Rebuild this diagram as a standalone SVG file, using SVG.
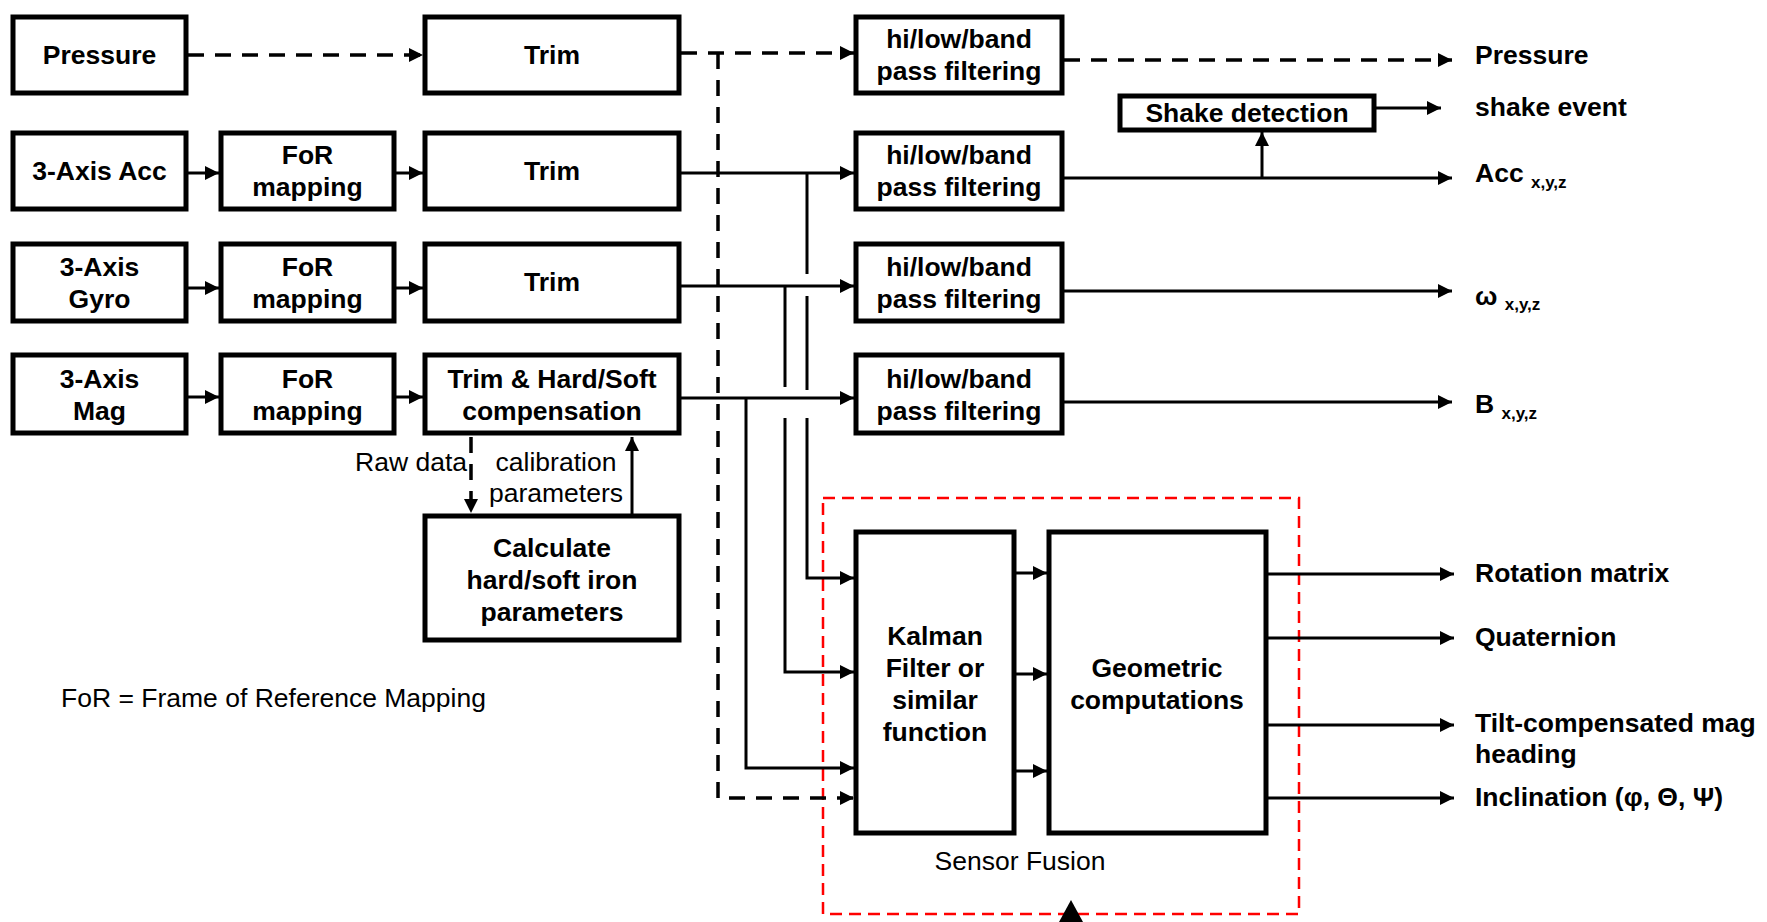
<svg xmlns="http://www.w3.org/2000/svg" width="1767" height="922" viewBox="0 0 1767 922">
<style>
text{font-family:"Liberation Sans",Arial,sans-serif;font-size:26.5px;fill:#000}
.b{font-weight:bold}
.c{text-anchor:middle}
.sub{font-size:17px;font-weight:bold}
.box{fill:#fff;stroke:#000;stroke-width:5}
.ln{fill:none;stroke:#000;stroke-width:3}
.da{fill:none;stroke:#000;stroke-width:3.5;stroke-dasharray:16 11}
.red{fill:none;stroke:#ff0000;stroke-width:2.5;stroke-dasharray:12 7}
</style>
<defs>
<marker id="ah" markerUnits="userSpaceOnUse" markerWidth="14" markerHeight="14" refX="14" refY="7" orient="auto"><path d="M0,0 L14,7 L0,14 z" fill="#000"/></marker>
</defs>
<rect width="1767" height="922" fill="#fff"/>

<g id="sensor-fusion">
<rect class="red" x="823" y="498" width="476" height="416"/>
<text class="c" x="1020" y="870">Sensor Fusion</text>
</g>

<g id="connectors">
<path class="da" d="M188,55 H423" marker-end="url(#ah)"/>
<path class="da" d="M681,53 H854" marker-end="url(#ah)"/>
<path class="da" d="M718,53 V798 H854" marker-end="url(#ah)"/>
<path class="da" d="M1064,60 H1452" marker-end="url(#ah)"/>
<path class="ln" d="M188,173 H219" marker-end="url(#ah)"/>
<path class="ln" d="M396,173 H423" marker-end="url(#ah)"/>
<path class="ln" d="M681,173 H854" marker-end="url(#ah)"/>
<path class="ln" d="M1064,178 H1452" marker-end="url(#ah)"/>
<path class="ln" d="M1262,178 V132" marker-end="url(#ah)"/>
<path class="ln" d="M1376,108 H1441" marker-end="url(#ah)"/>
<path class="ln" d="M188,288 H219" marker-end="url(#ah)"/>
<path class="ln" d="M396,288 H423" marker-end="url(#ah)"/>
<path class="ln" d="M681,286 H854" marker-end="url(#ah)"/>
<path class="ln" d="M1064,291 H1452" marker-end="url(#ah)"/>
<path class="ln" d="M188,397 H219" marker-end="url(#ah)"/>
<path class="ln" d="M396,397 H423" marker-end="url(#ah)"/>
<path class="ln" d="M681,398 H854" marker-end="url(#ah)"/>
<path class="ln" d="M1064,402 H1452" marker-end="url(#ah)"/>
<path class="ln" d="M807,173 V274 M807,296 V390"/>
<path class="ln" d="M807,418 V578 H854" marker-end="url(#ah)"/>
<path class="ln" d="M785,286 V387"/>
<path class="ln" d="M785,418 V672 H854" marker-end="url(#ah)"/>
<path class="ln" d="M746,398 V768 H854" marker-end="url(#ah)"/>
<path class="ln" d="M1016,573 H1047" marker-end="url(#ah)"/>
<path class="ln" d="M1016,674 H1047" marker-end="url(#ah)"/>
<path class="ln" d="M1016,771 H1047" marker-end="url(#ah)"/>
<path class="ln" d="M1268,574 H1454" marker-end="url(#ah)"/>
<path class="ln" d="M1268,638 H1454" marker-end="url(#ah)"/>
<path class="ln" d="M1268,725 H1454" marker-end="url(#ah)"/>
<path class="ln" d="M1268,798 H1454" marker-end="url(#ah)"/>
<path class="da" d="M471,437 V513" marker-end="url(#ah)"/>
<path class="ln" d="M632,514 V437" marker-end="url(#ah)"/>
<path class="ln" d="M1071,922 V905" stroke-width="5"/>
<path d="M1071,900 L1059,922 L1083,922 z" fill="#000"/>
</g>

<g id="pressure"><rect class="box" x="13" y="17" width="173" height="76"/><text class="b c" x="99.5" y="64">Pressure</text></g>
<g id="trim1"><rect class="box" x="425" y="17" width="254" height="76"/><text class="b c" x="552" y="64">Trim</text></g>
<g id="filter1"><rect class="box" x="856" y="17" width="206" height="76"/><text class="b c" x="959" y="48">hi/low/band</text><text class="b c" x="959" y="80">pass filtering</text></g>

<g id="acc"><rect class="box" x="13" y="133" width="173" height="76"/><text class="b c" x="99.5" y="180">3-Axis Acc</text></g>
<g id="for-acc"><rect class="box" x="221" y="133" width="173" height="76"/><text class="b c" x="307.5" y="164">FoR</text><text class="b c" x="307.5" y="196">mapping</text></g>
<g id="trim2"><rect class="box" x="425" y="133" width="254" height="76"/><text class="b c" x="552" y="180">Trim</text></g>
<g id="filter2"><rect class="box" x="856" y="133" width="206" height="76"/><text class="b c" x="959" y="164">hi/low/band</text><text class="b c" x="959" y="196">pass filtering</text></g>

<g id="gyro"><rect class="box" x="13" y="244" width="173" height="77"/><text class="b c" x="99.5" y="276">3-Axis</text><text class="b c" x="99.5" y="308">Gyro</text></g>
<g id="for-gyro"><rect class="box" x="221" y="244" width="173" height="77"/><text class="b c" x="307.5" y="276">FoR</text><text class="b c" x="307.5" y="308">mapping</text></g>
<g id="trim3"><rect class="box" x="425" y="244" width="254" height="77"/><text class="b c" x="552" y="291">Trim</text></g>
<g id="filter3"><rect class="box" x="856" y="244" width="206" height="77"/><text class="b c" x="959" y="276">hi/low/band</text><text class="b c" x="959" y="308">pass filtering</text></g>

<g id="mag"><rect class="box" x="13" y="355" width="173" height="78"/><text class="b c" x="99.5" y="388">3-Axis</text><text class="b c" x="99.5" y="420">Mag</text></g>
<g id="for-mag"><rect class="box" x="221" y="355" width="173" height="78"/><text class="b c" x="307.5" y="388">FoR</text><text class="b c" x="307.5" y="420">mapping</text></g>
<g id="trim-comp"><rect class="box" x="425" y="355" width="254" height="78"/><text class="b c" x="552" y="388">Trim &amp; Hard/Soft</text><text class="b c" x="552" y="420">compensation</text></g>
<g id="filter4"><rect class="box" x="856" y="355" width="206" height="78"/><text class="b c" x="959" y="388">hi/low/band</text><text class="b c" x="959" y="420">pass filtering</text></g>

<g id="shake"><rect class="box" x="1120" y="96" width="254" height="34"/><text class="b c" x="1247" y="122">Shake detection</text></g>

<g id="calculate"><rect class="box" x="425" y="516" width="254" height="124"/><text class="b c" x="552" y="557">Calculate</text><text class="b c" x="552" y="589">hard/soft iron</text><text class="b c" x="552" y="621">parameters</text></g>

<g id="kalman"><rect class="box" x="856" y="532" width="158" height="301"/><text class="b c" x="935" y="645">Kalman</text><text class="b c" x="935" y="677">Filter or</text><text class="b c" x="935" y="709">similar</text><text class="b c" x="935" y="741">function</text></g>
<g id="geometric"><rect class="box" x="1049" y="532" width="217" height="301"/><text class="b c" x="1157" y="677">Geometric</text><text class="b c" x="1157" y="709">computations</text></g>

<g id="labels">
<text x="467" y="471" text-anchor="end">Raw data</text>
<text class="c" x="556" y="471">calibration</text>
<text class="c" x="556" y="502">parameters</text>
<text x="61" y="707">FoR = Frame of Reference Mapping</text>
<text class="b" x="1475" y="64">Pressure</text>
<text class="b" x="1475" y="116">shake event</text>
<text class="b" x="1475" y="182">Acc <tspan class="sub" dy="6">x,y,z</tspan></text>
<text class="b" x="1475" y="305">ω <tspan class="sub" dy="5">x,y,z</tspan></text>
<text class="b" x="1475" y="413">B <tspan class="sub" dy="6">x,y,z</tspan></text>
<text class="b" x="1475" y="582">Rotation matrix</text>
<text class="b" x="1475" y="646">Quaternion</text>
<text class="b" x="1475" y="732">Tilt-compensated mag</text>
<text class="b" x="1475" y="763">heading</text>
<text class="b" x="1475" y="806">Inclination (φ, Θ, Ψ)</text>
</g>
</svg>
